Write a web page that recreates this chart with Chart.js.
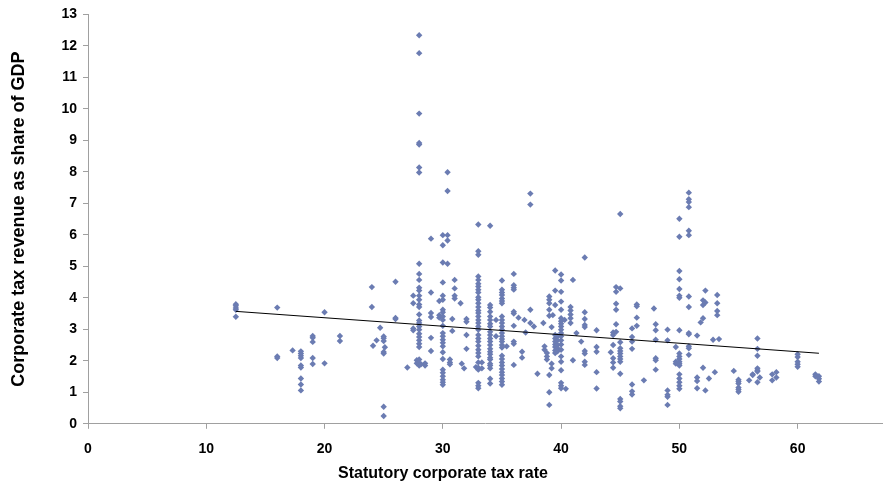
<!DOCTYPE html>
<html>
<head>
<meta charset="utf-8">
<script src="https://cdn.jsdelivr.net/npm/chart.js@4.4.0/dist/chart.umd.min.js"></script>
<style>
    html, body { margin: 0; padding: 0; background: #fff; }
    canvas { display: block; }
</style>
</head>
<body>
<canvas id="myChart" width="886" height="486"></canvas>
<script>
const rates = [
    12.5, 16, 17.3, 18, 19, 20, 21.3, 24, 24.1, 24.4, 24.7, 25, 25.1, 26, 27, 27.5,
    27.8, 28, 28.15, 28.5, 29, 29.7, 30, 30.4, 30.6, 30.8, 31, 31.5, 31.6, 31.8, 32,
    32.8, 33, 33.3, 34, 34.5, 35, 35.4, 36, 36.4, 36.7, 36.9, 37, 37.4, 37.7, 38,
    38.5, 38.6, 38.8, 39, 39.2, 39.3, 39.5, 39.7, 40, 40.3, 40.4, 40.8, 41, 41.3, 41.7,
    42, 43, 44.2, 44.4, 44.65, 45, 46, 46.4, 47, 47.85, 48, 49, 49.7, 50, 50.8, 51.5,
    51.8, 52, 52.2, 52.5, 52.85, 53, 53.2, 53.35, 54.6, 55, 55.9, 56.2, 56.6, 56.8,
    57.85, 58.2, 60, 61.5, 61.8
];
const revenue = [
    [3.80, 3.75, 3.68, 3.62, 3.40],
    [3.69, 2.14, 2.09],
    [2.33],
    [2.30, 2.23, 2.16, 2.09, 1.85, 1.79, 1.44, 1.25, 1.06],
    [2.79, 2.73, 2.60, 2.09, 1.90],
    [3.54, 1.92],
    [2.79, 2.63],
    [4.34, 3.71],
    [2.48],
    [2.65],
    [3.05],
    [2.77, 2.72, 2.63, 2.28, 2.23, 0.54, 0.25],
    [2.43],
    [4.51, 3.36, 3.33],
    [1.79],
    [4.07, 3.83, 3.03, 2.97],
    [2.02, 1.92],
    [12.34, 11.77, 9.85, 8.92, 8.87, 8.14, 7.98, 5.08, 4.76, 4.57, 4.32, 4.23, 4.07, 3.94, 3.79, 3.71,
        3.47, 3.28, 3.20, 3.09, 2.99, 2.86, 2.76, 2.65, 2.54, 2.44, 2.04, 1.93, 1.85],
    [1.89],
    [1.92, 1.85],
    [5.88, 4.17, 3.52, 3.39, 2.73, 2.31],
    [3.90, 3.45, 3.37],
    [5.99, 5.67, 5.12, 4.49, 4.07, 3.94, 3.62, 3.54, 3.41, 3.30, 3.11, 2.88, 2.78, 2.67, 2.57, 2.46,
        2.27, 2.06, 1.72, 1.62, 1.51, 1.40, 1.32, 1.24],
    [7.99, 7.39, 5.99, 5.82, 5.08],
    [2.04, 1.95, 1.89],
    [3.33, 2.95],
    [4.57, 4.30, 4.07, 3.98],
    [3.83],
    [1.91],
    [1.76],
    [3.33, 3.24, 2.82, 2.38],
    [1.80],
    [6.33, 5.48, 5.37, 4.68, 4.57, 4.45, 4.36, 4.26, 4.17, 4.02, 3.94, 3.83, 3.71, 3.60, 3.52, 3.41,
        3.30, 3.20, 3.09, 2.99, 2.82, 2.71, 2.61, 2.48, 2.35, 2.25, 2.14, 1.95, 1.78, 1.72, 1.30, 1.21, 1.13],
    [1.95, 1.76],
    [6.29, 3.77, 3.69, 3.56, 3.41, 3.30, 3.18, 3.09, 2.92, 2.82, 2.71, 2.61, 2.50, 2.38, 2.29, 2.21,
        2.10, 2.04, 1.91, 1.85, 1.76, 1.43, 1.28],
    [3.30, 2.78],
    [4.55, 4.26, 4.17, 4.09, 3.98, 3.90, 3.83, 3.41, 3.30, 3.20, 3.09, 2.99, 2.88, 2.78, 2.69, 2.61,
        2.50, 2.42, 2.16, 2.06, 1.95, 1.85, 1.74, 1.64, 1.55, 1.44, 1.34, 1.24],
    [2.46],
    [4.76, 4.40, 4.32, 4.26, 3.56, 3.50, 3.11, 2.61, 2.54, 1.87],
    [3.37],
    [2.29, 2.10],
    [3.30],
    [2.90],
    [7.31, 6.96, 3.62, 3.20],
    [3.09],
    [1.59],
    [3.20],
    [2.46, 2.35],
    [2.25, 2.14, 2.04],
    [4.04, 3.94, 3.83, 3.62, 3.43, 1.55, 1.00, 0.60],
    [3.07, 1.91, 1.76],
    [3.45],
    [4.87, 4.23, 3.77, 2.82, 2.71, 2.61, 2.52, 2.44, 2.33, 2.25],
    [2.78, 2.65, 2.50, 2.40, 2.30],
    [4.74, 4.55, 4.19, 3.88, 3.62, 3.35, 3.26, 3.18, 3.09, 2.99, 2.88, 2.78, 2.65, 2.52, 2.35, 2.14,
        1.97, 1.70, 1.30, 1.21, 1.13],
    [3.30],
    [1.11],
    [3.71, 3.60, 3.47, 3.35, 3.20],
    [4.57, 2.02],
    [2.88],
    [2.61],
    [5.28, 3.54, 3.33, 3.14, 3.07, 2.31, 2.23, 1.97, 1.87],
    [2.97, 2.44, 2.29, 1.64, 1.12],
    [2.27],
    [2.90, 2.82, 2.50, 2.08, 1.95, 1.78],
    [4.34, 4.19, 3.81, 3.62, 3.16, 2.92],
    [6.66, 4.30, 2.59, 2.40, 2.31, 2.23, 2.14, 2.06, 1.97, 1.59, 0.79, 0.71, 0.56, 0.49],
    [3.03, 2.76, 2.61, 2.38, 1.25, 1.03, 0.93],
    [3.79, 3.73, 3.37, 3.11],
    [1.38],
    [3.66],
    [3.16, 2.97, 2.67, 2.08, 2.02, 1.72],
    [2.99, 2.65, 1.06, 0.92, 0.86, 0.60],
    [2.44, 1.97, 1.91],
    [6.51, 5.94, 4.85, 4.59, 4.28, 4.07, 4.00, 2.97, 2.23, 2.14, 2.06, 1.97, 1.91, 1.85, 1.57, 1.44,
        1.32, 1.21, 1.11],
    [7.34, 7.13, 7.04, 6.88, 6.13, 5.99, 4.04, 3.71, 2.88, 2.84, 2.46, 2.40, 2.19],
    [2.80, 1.47, 1.36, 1.13],
    [3.22],
    [3.35, 3.77, 3.92, 1.78],
    [4.23, 3.85, 1.06],
    [1.44],
    [2.67],
    [1.64],
    [4.09, 3.83, 3.58, 3.45],
    [2.69],
    [1.68],
    [1.40, 1.34, 1.28, 1.15, 1.09, 1.02],
    [1.38],
    [1.57, 1.55],
    [2.71, 2.38, 2.16, 1.76, 1.70, 1.66, 1.32],
    [1.47],
    [1.57, 1.38],
    [1.64, 1.47],
    [2.21, 2.12, 1.97, 1.89, 1.81],
    [1.57, 1.51],
    [1.51, 1.43, 1.34]
];

// linear trend line end points
const trendX = [12.5, 61.8];
const trendY = [3.57, 2.24];

const xTicks = [0, 10, 20, 30, 40, 50, 60];
const yMax = 13;
const xMax = 67.2;

document.addEventListener('DOMContentLoaded', () => {
    const ctx = document.getElementById('myChart').getContext('2d');

    const points = [];
    rates.forEach((r, i) => {
        revenue[i].forEach(v => points.push({ x: r, y: v }));
    });

    const axisColor = '#a0a0a0';
    const fontFamily = '"Liberation Sans", Arial, sans-serif';

    new Chart(ctx, {
        type: 'scatter',
        data: {
            datasets: [{
                label: 'countries',
                data: points,
                pointStyle: 'rectRot',
                pointRadius: 3.2,
                pointHoverRadius: 3.2,
                borderWidth: 0,
                backgroundColor: '#6b7cb2',
                borderColor: '#6b7cb2',
                order: 2
            },
            {
                type: 'line',
                label: 'trend',
                data: trendX.map((x, i) => ({ x: x, y: trendY[i] })),
                borderColor: '#000000',
                borderWidth: 1,
                pointRadius: 0,
                fill: false,
                order: 1
            }]
        },
        options: {
            responsive: false,
            animation: false,
            events: [],
            plugins: {
                legend: { display: false },
                tooltip: { enabled: false },
                title: {
                    display: true,
                    position: 'bottom',
                    text: 'Statutory corporate tax rate',
                    color: '#000',
                    font: { family: fontFamily, size: 16, weight: 'bold' },
                    padding: { top: 0, bottom: 3 }
                }
            },
            layout: {
                padding: { left: 0, right: 0, top: 14, bottom: 0 }
            },
            scales: {
                x: {
                    type: 'linear',
                    min: 0,
                    max: xMax,
                    afterBuildTicks: scale => {
                        scale.ticks = xTicks.map(v => ({ value: v }));
                    },
                    afterFit: scale => { scale.height = 40; },
                    border: { display: true, color: axisColor, width: 1 },
                    grid: {
                        drawOnChartArea: false,
                        drawTicks: true,
                        tickLength: 5,
                        color: axisColor
                    },
                    ticks: {
                        color: '#000',
                        font: { family: fontFamily, size: 14, weight: 'bold' },
                        padding: 12,
                        maxRotation: 0
                    }
                },
                y: {
                    min: 0,
                    max: yMax,
                    afterFit: scale => { scale.width = 88; },
                    border: { display: true, color: axisColor, width: 1 },
                    grid: {
                        drawOnChartArea: false,
                        drawTicks: true,
                        tickLength: 5,
                        color: axisColor
                    },
                    ticks: {
                        stepSize: 1,
                        color: '#000',
                        font: { family: fontFamily, size: 14, weight: 'bold' },
                        padding: 6
                    },
                    title: {
                        display: true,
                        text: 'Corporate tax revenue as share of GDP',
                        color: '#000',
                        font: { family: fontFamily, size: 18, weight: 'bold' },
                        padding: { top: 8, bottom: 0 }
                    }
                }
            }
        }
    });
});
</script>
</body>
</html>
